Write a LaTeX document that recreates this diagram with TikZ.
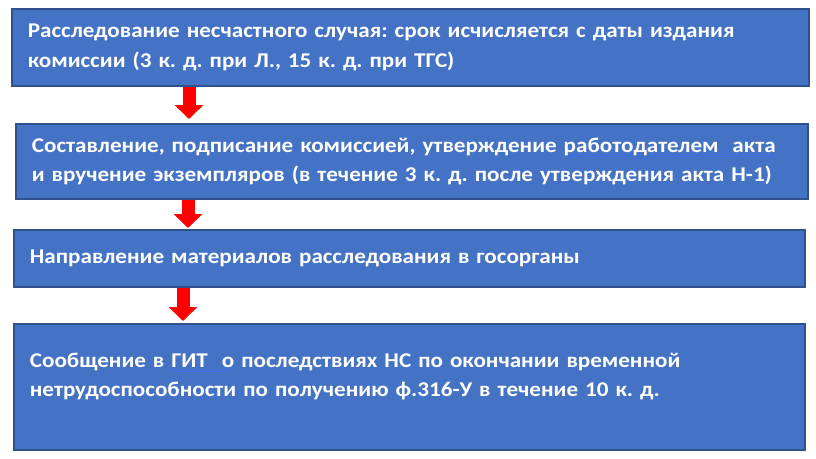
\documentclass[tikz,border=0pt]{standalone}
\usepackage{fontspec}
\setmainfont{Carlito}[FakeStretch=1.10]
\frenchspacing
\usetikzlibrary{arrows.meta}
\definecolor{boxBlue}{RGB}{68,114,196}
\definecolor{edgeBlue}{RGB}{47,82,143}
\definecolor{arrowRed}{RGB}{255,0,0}
\definecolor{gramBlue}{RGB}{64,112,224}
\newcommand\gramul[1]{\setbox0\hbox{#1}\rlap{\color{gramBlue}\rule[-2.5pt]{\wd0}{0.7pt}}\rlap{\color{gramBlue}\rule[-5pt]{\wd0}{0.7pt}}\box0\relax}

\begin{document}
\begin{tikzpicture}[x=1pt,y=-1pt,
  stagebox/.style={rectangle,draw=edgeBlue,line width=1.8pt,fill=boxBlue,text=white,
    font=\bfseries\fontsize{21}{29.5}\selectfont,anchor=north west,align=left,
    inner xsep=16pt,inner ysep=0pt},
  downarrow/.style={draw=arrowRed,line width=13pt,-{Triangle[width=28pt,length=14pt]}}]
\useasboundingbox (0,0) rectangle (816,458);
% Steps
\node[stagebox,text width=765pt,minimum height=77pt] (b1) at (11,8)
  {Расследование несчастного случая: срок исчисляется с даты издания\\
   комиссии (3 к. д. при Л., 15 к. д. при ТГС)};
\node[stagebox,text width=760pt,minimum height=75pt] (b2) at (15,123)
  {Составление, подписание комиссией, утверждение \gramul{работодателем\ \ акта}\\
   и вручение экземпляров (в течение 3 к. д. после утверждения акта Н-1)};
\node[stagebox,text width=759pt,minimum height=57pt] (b3) at (13,229)
  {Направление материалов расследования в госорганы};
\node[stagebox,text width=759pt,minimum height=126pt] (b4) at (13,323)
  {Сообщение в \gramul{ГИТ\ \ о} последствиях НС по окончании временной\\
   нетрудоспособности по получению ф.316-У в течение 10 к. д.\\[-5pt]\mbox{}};

% Arrows
\draw[downarrow] ([xshift=178pt]b1.south west) -- ([xshift=174pt,yshift=4pt]b2.north west);
\draw[downarrow] ([xshift=173pt]b2.south west) -- ([xshift=175pt,yshift=1pt]b3.north west);
\draw[downarrow] ([xshift=170pt]b3.south west) -- ([xshift=170pt,yshift=2pt]b4.north west);
\end{tikzpicture}
\end{document}
